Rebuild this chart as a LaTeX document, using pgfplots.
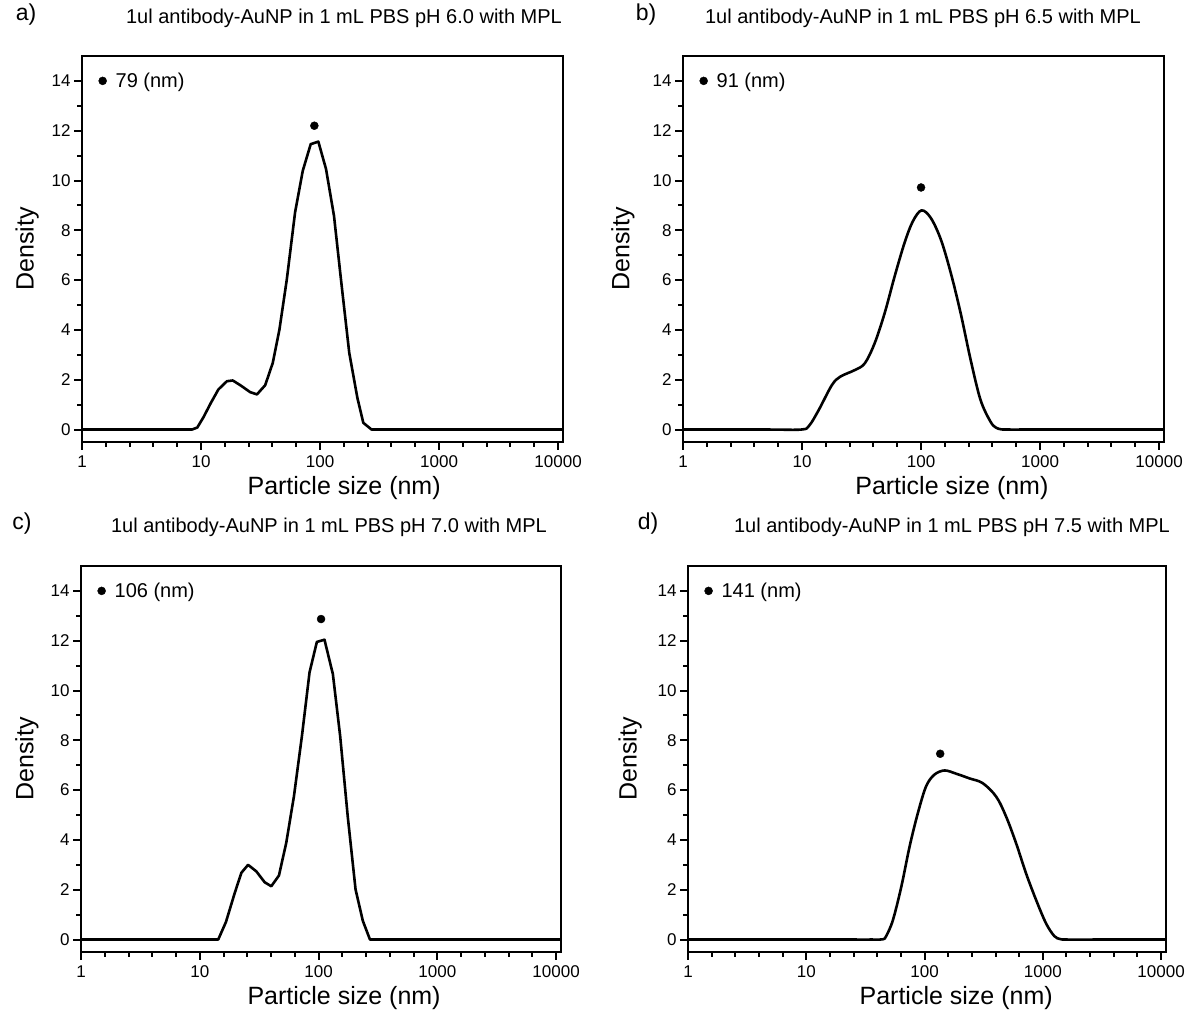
\documentclass[border=0pt]{standalone}
\usepackage{fontspec}
\setmainfont{Liberation Sans}
\usepackage{pgfplots}
\pgfplotsset{compat=1.18}
\newcommand{\tickfont}{\fontsize{17}{20}\selectfont}

\begin{document}
\begin{tikzpicture}
\useasboundingbox (0,0) rectangle (1186pt,1011pt);

% a) pH 6.0
\begin{axis}[at={(82pt,569pt)}, anchor=south west,
  scale only axis, width=481pt, height=386pt,
  xmode=log, xmin=1, xmax=11000, ymin=-0.5, ymax=15,
  xtick={1,10,100,1000,10000}, xticklabels={1,10,100,1000,10000},
  minor xtick={1.585,2.512,3.981,6.310,15.85,25.12,39.81,63.10,158.5,251.2,398.1,631.0,1585,2512,3981,6310},
  ytick={0,2,4,6,8,10,12,14}, yticklabels={0,2,4,6,8,10,12,14}, minor ytick={1,3,5,7,9,11,13},
  xtick pos=left, ytick pos=left, tick align=outside,
  major tick length=8pt, minor tick length=5pt,
  every tick/.append style={black, line width=2pt},
  axis line style={line width=2.8pt},
  xticklabel style={font=\tickfont, yshift=-2pt},
  yticklabel style={font=\tickfont},
  xlabel={Particle size (nm)}, ylabel={Density},
  label style={font=\fontsize{25}{29}\selectfont},
  xlabel style={at={(rel axis cs:0.545,-0.119)}, anchor=center},
  ylabel style={at={(rel axis cs:-0.114,0.5)}, anchor=center},
  legend style={draw=none, fill=none, font=\fontsize{20}{24}\selectfont,
    anchor=west, at={(rel axis cs:0.028,0.9355)}}]
\addplot[black, line width=2.6pt, mark=none, line join=round, forget plot] coordinates {
  (1,0) (8.4,0) (9.3,0.08) (10.5,0.5) (12.1,1.07) (14.0,1.61) (16.5,1.94) (18.5,1.97)
  (21.7,1.76) (25.9,1.50) (29.5,1.41) (34.6,1.78) (40.1,2.68) (45.6,4.02)
  (52.6,6.03) (61.7,8.72) (71.6,10.39) (83.5,11.46) (96.8,11.56) (112.3,10.46)
  (131,8.58) (152,5.77) (176,3.08) (206,1.27) (231,0.27) (271,0) (11000,0)};
\addplot[black, only marks, mark=*, mark size=4pt] coordinates {(89.6,12.2)};
\addlegendentry{\hspace{7pt}79 (nm)}
\end{axis}

% b) pH 6.5
\begin{axis}[at={(683pt,569pt)}, anchor=south west,
  scale only axis, width=481pt, height=386pt,
  xmode=log, xmin=1, xmax=11000, ymin=-0.5, ymax=15,
  xtick={1,10,100,1000,10000}, xticklabels={1,10,100,1000,10000},
  minor xtick={1.585,2.512,3.981,6.310,15.85,25.12,39.81,63.10,158.5,251.2,398.1,631.0,1585,2512,3981,6310},
  ytick={0,2,4,6,8,10,12,14}, yticklabels={0,2,4,6,8,10,12,14}, minor ytick={1,3,5,7,9,11,13},
  xtick pos=left, ytick pos=left, tick align=outside,
  major tick length=8pt, minor tick length=5pt,
  every tick/.append style={black, line width=2pt},
  axis line style={line width=2.8pt},
  xticklabel style={font=\tickfont, yshift=-2pt},
  yticklabel style={font=\tickfont},
  xlabel={Particle size (nm)}, ylabel={Density},
  label style={font=\fontsize{25}{29}\selectfont},
  xlabel style={at={(rel axis cs:0.559,-0.119)}, anchor=center},
  ylabel style={at={(rel axis cs:-0.125,0.5)}, anchor=center},
  legend style={draw=none, fill=none, font=\fontsize{20}{24}\selectfont,
    anchor=west, at={(rel axis cs:0.028,0.9355)}}]
\addplot[black, line width=2.6pt, mark=none, line join=round, smooth, tension=0.55, forget plot] coordinates {
  (1,0) (5,0) (9.87,0) (11.5,0.16) (13.8,0.78) (17.8,1.78) (20.9,2.12)
  (27.8,2.39) (33.7,2.66) (40.8,3.47) (49.5,4.68) (60,6.15) (72.6,7.49)
  (85.3,8.36) (101,8.80) (121,8.49) (147,7.62) (178,6.28) (215,4.68)
  (261,2.80) (316,1.19) (383,0.32) (425,0.08) (470,0.01) (530,0) (1000,0) (11000,0)};
\addplot[black, only marks, mark=*, mark size=4pt] coordinates {(100,9.72)};
\addlegendentry{\hspace{7pt}91 (nm)}
\end{axis}

% c) pH 7.0
\begin{axis}[at={(81pt,59pt)}, anchor=south west,
  scale only axis, width=480pt, height=386pt,
  xmode=log, xmin=1, xmax=11000, ymin=-0.5, ymax=15,
  xtick={1,10,100,1000,10000}, xticklabels={1,10,100,1000,10000},
  minor xtick={1.585,2.512,3.981,6.310,15.85,25.12,39.81,63.10,158.5,251.2,398.1,631.0,1585,2512,3981,6310},
  ytick={0,2,4,6,8,10,12,14}, yticklabels={0,2,4,6,8,10,12,14}, minor ytick={1,3,5,7,9,11,13},
  xtick pos=left, ytick pos=left, tick align=outside,
  major tick length=8pt, minor tick length=5pt,
  every tick/.append style={black, line width=2pt},
  axis line style={line width=2.8pt},
  xticklabel style={font=\tickfont, yshift=-2pt},
  yticklabel style={font=\tickfont},
  xlabel={Particle size (nm)}, ylabel={Density},
  label style={font=\fontsize{25}{29}\selectfont},
  xlabel style={at={(rel axis cs:0.548,-0.119)}, anchor=center},
  ylabel style={at={(rel axis cs:-0.1125,0.5)}, anchor=center},
  legend style={draw=none, fill=none, font=\fontsize{20}{24}\selectfont,
    anchor=west, at={(rel axis cs:0.028,0.9355)}}]
\addplot[black, line width=2.6pt, mark=none, line join=round, forget plot] coordinates {
  (1,0) (14.3,0) (16.6,0.70) (19.7,1.87) (22.4,2.68) (25.5,3.00) (29.9,2.74)
  (35.2,2.30) (40,2.14) (46.4,2.57) (53.5,3.89) (62.1,5.76) (72.5,8.18)
  (84,10.73) (96.8,11.95) (112.2,12.04) (132,10.66) (152,8.18) (176,4.96)
  (205,2.01) (236,0.75) (271,0) (11000,0)};
\addplot[black, only marks, mark=*, mark size=4pt] coordinates {(105,12.87)};
\addlegendentry{\hspace{7pt}106 (nm)}
\end{axis}

% d) pH 7.5
\begin{axis}[at={(688pt,59pt)}, anchor=south west,
  scale only axis, width=478pt, height=386pt,
  xmode=log, xmin=1, xmax=11000, ymin=-0.5, ymax=15,
  xtick={1,10,100,1000,10000}, xticklabels={1,10,100,1000,10000},
  minor xtick={1.585,2.512,3.981,6.310,15.85,25.12,39.81,63.10,158.5,251.2,398.1,631.0,1585,2512,3981,6310},
  ytick={0,2,4,6,8,10,12,14}, yticklabels={0,2,4,6,8,10,12,14}, minor ytick={1,3,5,7,9,11,13},
  xtick pos=left, ytick pos=left, tick align=outside,
  major tick length=8pt, minor tick length=5pt,
  every tick/.append style={black, line width=2pt},
  axis line style={line width=2.8pt},
  xticklabel style={font=\tickfont, yshift=-2pt},
  yticklabel style={font=\tickfont},
  xlabel={Particle size (nm)}, ylabel={Density},
  label style={font=\fontsize{25}{29}\selectfont},
  xlabel style={at={(rel axis cs:0.561,-0.119)}, anchor=center},
  ylabel style={at={(rel axis cs:-0.121,0.5)}, anchor=center},
  legend style={draw=none, fill=none, font=\fontsize{20}{24}\selectfont,
    anchor=west, at={(rel axis cs:0.028,0.9355)}}]
\addplot[black, line width=2.6pt, mark=none, line join=round, smooth, tension=0.55, forget plot] coordinates {
  (1,0) (20,0) (36,0) (44.5,0.01) (47.5,0.15) (54,0.78) (63.6,2.12) (74.7,3.73)
  (87.8,5.08) (103,6.15) (121,6.62) (147.5,6.79) (185,6.66) (240,6.47)
  (310,6.28) (403,5.74) (489,4.94) (594,3.87) (721,2.66) (877,1.59)
  (1064,0.65) (1250,0.14) (1400,0.02) (1600,0) (3000,0) (11000,0)};
\addplot[black, only marks, mark=*, mark size=4pt] coordinates {(135.6,7.46)};
\addlegendentry{\hspace{7pt}141 (nm)}
\end{axis}

\node[font=\fontsize{23}{27}\selectfont] at (26pt,996pt) {a)};
\node[font=\fontsize{23}{27}\selectfont] at (646pt,996pt) {b)};
\node[font=\fontsize{23}{27}\selectfont] at (22pt,487pt) {c)};
\node[font=\fontsize{23}{27}\selectfont] at (648pt,487pt) {d)};
\node[font=\fontsize{20}{24}\selectfont] at (344pt,993pt) {1ul antibody-AuNP in 1 mL PBS pH 6.0 with MPL};
\node[font=\fontsize{20}{24}\selectfont] at (923pt,993pt) {1ul antibody-AuNP in 1 mL PBS pH 6.5 with MPL};
\node[font=\fontsize{20}{24}\selectfont] at (329pt,484pt) {1ul antibody-AuNP in 1 mL PBS pH 7.0 with MPL};
\node[font=\fontsize{20}{24}\selectfont] at (952pt,484pt) {1ul antibody-AuNP in 1 mL PBS pH 7.5 with MPL};
\end{tikzpicture}
\end{document}
